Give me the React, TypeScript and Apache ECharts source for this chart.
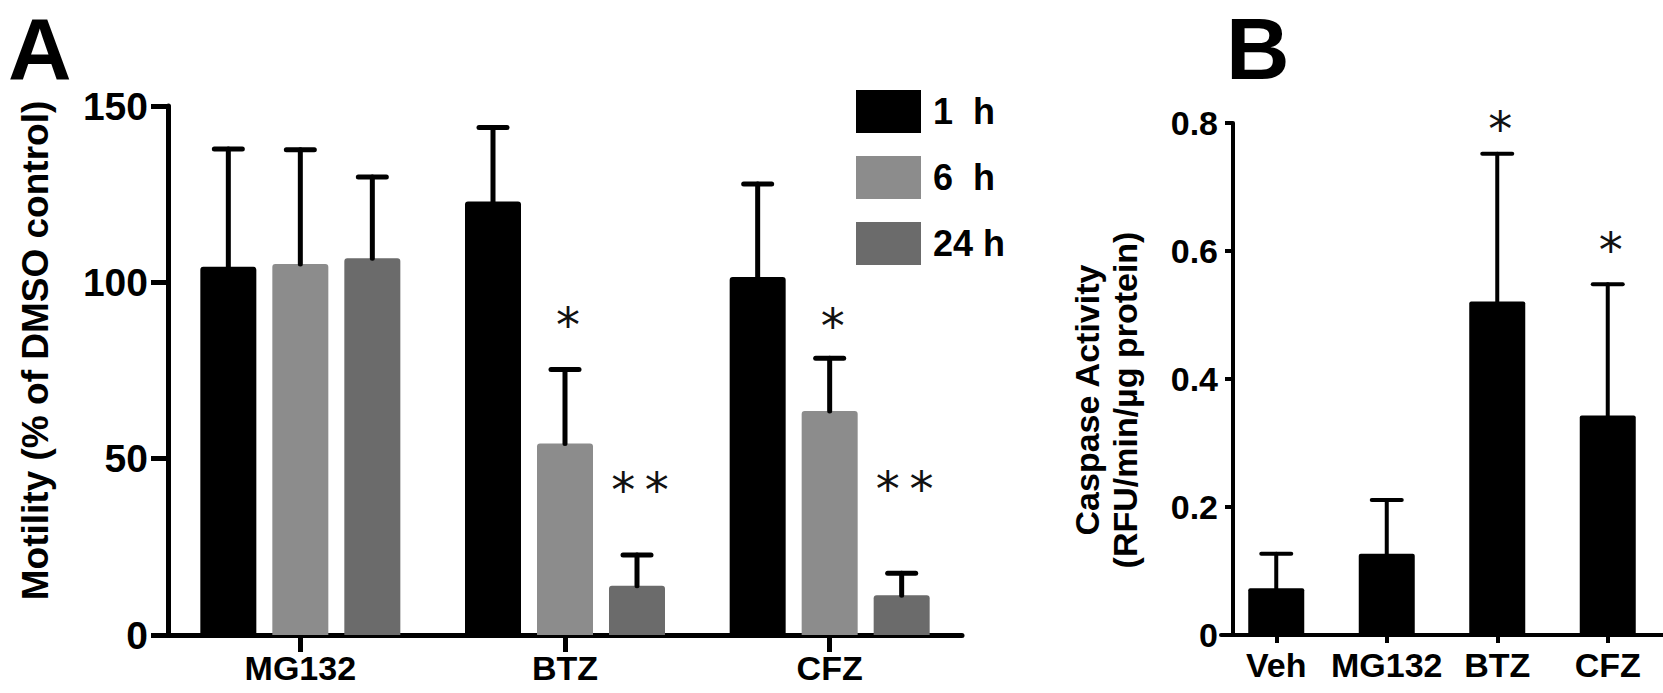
import React, { useEffect, useRef } from "react";
import * as echarts from "echarts";

// ---------- Panel A data ----------
const groupsA = ["MG132", "BTZ", "CFZ"];
const seriesNamesA = ["1\u00a0 h", "6\u00a0 h", "24 h"];
const mean1h = [104.4, 122.9, 101.5];
const sem1h = [33.4, 21.0, 26.4];
const mean6h = [105.2, 54.3, 63.5];
const sem6h = [32.4, 21.0, 15.0];
const mean24h = [106.8, 14.0, 11.3];
const sem24h = [23.1, 8.7, 6.2];
const sig1h = ["", "", ""];
const sig6h = ["", "*", "*"];
const sig24h = ["", "*\u2009*", "*\u2009*"];
const sigPos1h = [null, null, null];
const sigPos6h = [null, 91.0, 90.6];
const sigPos24h = [null, 44.2, 44.4];
const yTicksA = { min: 0, max: 150, interval: 50 };
const yTitleA = "Motility (% of DMSO control)";

// ---------- Panel B data ----------
const groupsB = ["Veh", "MG132", "BTZ", "CFZ"];
const meanB = [0.073, 0.127, 0.521, 0.343];
const semB = [0.054, 0.084, 0.231, 0.205];
const sigB = ["", "", "*", "*"];
const sigPosB = [null, null, 0.808, 0.619];
const yTicksB = { min: 0, max: 0.8, interval: 0.2 };
const yTitleB = "Caspase Activity\n(RFU/min/µg protein)";

const FONT = '"Liberation Sans", Arial, Helvetica, sans-serif';
const STAR_FONT = '"DejaVu Sans", sans-serif';
const colorsA = ["#000000", "#8c8c8c", "#6b6b6b"];

function errData(means: number[], sems: number[], sigPos: (number | null)[]) {
  return means.map((m, i) => [i, m + sems[i], m, sigPos[i] == null ? 0 : sigPos[i]]);
}

function makeRender(offset: number, capHalf: number, lw: number, sigs: string[]) {
  return (params: any, api: any) => {
    const i = api.value(0);
    const top = api.value(1);
    const mean = api.value(2);
    const sy = api.value(3);
    const pTop = api.coord([i, top]);
    const pMean = api.coord([i, mean]);
    const x = pTop[0] + offset;
    const st = { stroke: "#000", lineWidth: lw, lineCap: "round" };
    const children: any[] = [
      { type: "line", shape: { x1: x, y1: pMean[1], x2: x, y2: pTop[1] }, style: st },
      { type: "line", shape: { x1: x - capHalf, y1: pTop[1], x2: x + capHalf, y2: pTop[1] }, style: st },
    ];
    const s = sigs[params.dataIndex];
    if (s) {
      const pS = api.coord([i, sy]);
      children.push({
        type: "text",
        x: x + 3,
        y: pS[1] + 11,
        style: {
          text: s,
          fontSize: 48,
          fontFamily: STAR_FONT,
          fill: "#111",
          align: "center",
          verticalAlign: "middle",
        },
      });
    }
    return { type: "group", children };
  };
}

const axisLineA = { show: true, lineStyle: { color: "#000", width: 5 } };
const axisTickA = { show: true, length: 17, lineStyle: { color: "#000", width: 5 } };
const axisLineB = { show: true, lineStyle: { color: "#000", width: 4 } };
const axisTickB = { show: true, length: 8, lineStyle: { color: "#000", width: 4 } };

export default function App() {
  const ref = useRef<HTMLDivElement>(null);
  useEffect(() => {
    if (!ref.current) return;
    const chart = echarts.init(ref.current, undefined, { renderer: "svg" });
    const meansA = [mean1h, mean6h, mean24h];
    const semsA = [sem1h, sem6h, sem24h];
    const sigsA = [sig1h, sig6h, sig24h];
    const sigPosA = [sigPos1h, sigPos6h, sigPos24h];
    const barW = 56;
    const gap = 16;

    const series: any[] = [];
    seriesNamesA.forEach((name, k) => {
      series.push({
        name,
        type: "bar",
        xAxisIndex: 0,
        yAxisIndex: 0,
        data: meansA[k],
        barWidth: barW,
        barGap: ((gap / barW) * 100).toFixed(2) + "%",
        itemStyle: { color: colorsA[k], borderRadius: [3, 3, 0, 0] },
        z: 2,
      });
    });
    seriesNamesA.forEach((name, k) => {
      series.push({
        name: name + " err",
        type: "custom",
        xAxisIndex: 0,
        yAxisIndex: 0,
        data: errData(meansA[k], semsA[k], sigPosA[k]),
        encode: { x: 0, y: 1 },
        renderItem: makeRender((k - 1) * (barW + gap), 14, 5, sigsA[k]),
        z: 3,
        silent: true,
      });
    });
    series.push({
      name: "Caspase",
      type: "bar",
      xAxisIndex: 1,
      yAxisIndex: 1,
      data: meanB,
      barWidth: 56,
      itemStyle: { color: "#000", borderRadius: [2, 2, 0, 0] },
      z: 2,
    });
    series.push({
      name: "Caspase err",
      type: "custom",
      xAxisIndex: 1,
      yAxisIndex: 1,
      data: errData(meanB, semB, sigPosB),
      encode: { x: 0, y: 1 },
      renderItem: makeRender(0, 15, 4, sigB),
      z: 3,
      silent: true,
    });

    const option: any = {
      animation: false,
      backgroundColor: "#ffffff",
      textStyle: { fontFamily: FONT },
      legend: {
        data: seriesNamesA,
        orient: "vertical",
        left: 851,
        top: 85,
        itemWidth: 65,
        itemHeight: 43,
        itemGap: 23,
        icon: "rect",
        selectedMode: false,
        textStyle: {
          fontSize: 36,
          fontWeight: "bold",
          color: "#000",
          fontFamily: FONT,
          padding: [0, 0, 0, 7],
        },
      },
      grid: [
        { left: 168, top: 106, width: 794, height: 529 },
        { left: 1221, top: 123, width: 448, height: 512 },
      ],
      xAxis: [
        {
          type: "category",
          gridIndex: 0,
          data: groupsA,
          axisLine: axisLineA,
          axisTick: { ...axisTickA, alignWithLabel: true },
          axisLabel: { interval: 0, fontSize: 34, fontWeight: "bold", color: "#000", margin: 16, fontFamily: FONT },
        },
        {
          type: "category",
          gridIndex: 1,
          data: groupsB,
          axisLine: axisLineB,
          axisTick: { ...axisTickB, alignWithLabel: true, interval: 0 },
          axisLabel: { interval: 0, fontSize: 34, fontWeight: "bold", color: "#000", margin: 13, fontFamily: FONT },
        },
      ],
      yAxis: [
        {
          type: "value",
          gridIndex: 0,
          ...yTicksA,
          axisLine: axisLineA,
          axisTick: axisTickA,
          splitLine: { show: false },
          axisLabel: { fontSize: 39, fontWeight: "bold", color: "#000", margin: 20, fontFamily: FONT },
          name: yTitleA,
          nameLocation: "middle",
          nameGap: 114,
          nameTextStyle: {
            fontSize: 37,
            fontWeight: "bold",
            color: "#000",
            fontFamily: FONT,
            padding: [0, 0, 0, 40],
          },
        },
        {
          type: "value",
          gridIndex: 1,
          ...yTicksB,
          offset: -12,
          axisLine: axisLineB,
          axisTick: axisTickB,
          splitLine: { show: false },
          axisLabel: {
            fontSize: 34,
            fontWeight: "bold",
            color: "#000",
            margin: 15,
            fontFamily: FONT,
            formatter: (v: number) => (v === 0 ? "0" : v.toFixed(1)),
          },
          name: yTitleB,
          nameLocation: "middle",
          nameGap: 89,
          nameTextStyle: {
            fontSize: 34,
            fontWeight: "bold",
            color: "#000",
            fontFamily: FONT,
            lineHeight: 38,
            padding: [0, 42, 0, 0],
          },
        },
      ],
      graphic: [
        {
          type: "text",
          x: 8,
          y: 4,
          style: { text: "A", fontSize: 88, fontWeight: "bold", fontFamily: FONT, fill: "#000", align: "left", verticalAlign: "top" },
        },
        {
          type: "text",
          x: 1226,
          y: 4,
          style: { text: "B", fontSize: 88, fontWeight: "bold", fontFamily: FONT, fill: "#000", align: "left", verticalAlign: "top" },
        },
      ],
      series,
    };
    chart.setOption(option);
    return () => chart.dispose();
  }, []);
  return (
    <div
      ref={ref}
      style={{ position: "absolute", left: 0, top: 0, width: 1663, height: 693, background: "#fff" }}
    />
  );
}
